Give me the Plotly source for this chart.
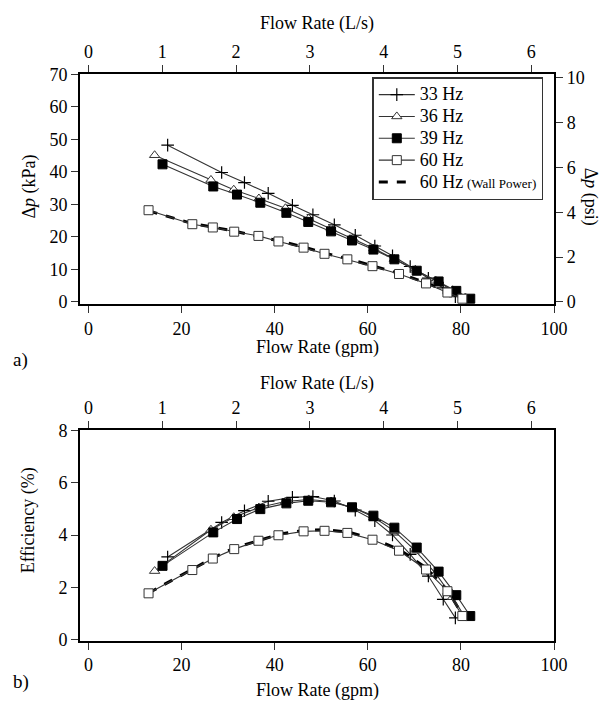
import plotly.graph_objects as go

# ---------------- data ----------------
GPM_PER_LPS = 15.850
KPA_PER_PSI = 6.895

# Flow rates (gpm) for each drive frequency
q33 = [17.0, 28.6, 33.5, 38.6, 43.8, 48.2, 52.8, 57.3, 61.5, 65.3, 69.1, 73.0, 76.2, 78.8]
q36 = [14.2, 26.3, 31.2, 36.6, 42.3, 47.3, 52.1, 56.8, 61.3, 65.7, 70.2, 74.6, 78.2, 80.9]
q39 = [15.9, 26.8, 31.9, 36.9, 42.5, 47.2, 52.1, 56.6, 61.2, 65.7, 70.5, 75.2, 79.0, 82.0]
q60 = [12.9, 22.3, 26.7, 31.3, 36.5, 40.8, 46.2, 50.7, 55.6, 61.0, 66.7, 72.5, 77.1, 80.3]
qwall = [12.9, 22.3, 26.7, 31.3, 36.5, 40.8, 46.2, 50.7, 55.6, 61.0, 66.7, 72.5, 77.1, 80.3]

# Pressure rise (kPa)
dp33 = [48.2, 39.8, 36.7, 33.4, 29.7, 26.8, 23.7, 20.5, 17.2, 14.2, 10.9, 7.3, 4.3, 1.6]
dp36 = [45.1, 37.5, 34.5, 31.8, 28.8, 25.6, 22.5, 19.5, 16.4, 13.2, 9.9, 6.5, 3.6, 1.3]
dp39 = [42.3, 35.5, 33.0, 30.5, 27.4, 24.6, 21.7, 18.9, 16.1, 13.1, 9.6, 6.3, 3.4, 1.0]
dp60 = [28.2, 23.9, 22.9, 21.6, 20.3, 18.6, 16.7, 14.8, 13.1, 11.0, 8.6, 5.7, 2.9, 1.0]
dpwall = [28.0, 24.1, 23.0, 21.8, 20.1, 18.8, 16.9, 15.0, 13.3, 11.2, 8.8, 5.9, 3.1, 1.1]

# Efficiency (%)
eff33 = [3.16, 4.48, 4.93, 5.29, 5.44, 5.47, 5.30, 4.95, 4.55, 4.00, 3.26, 2.43, 1.54, 0.83]
eff36 = [2.62, 4.20, 4.68, 5.05, 5.28, 5.36, 5.28, 5.05, 4.68, 4.15, 3.40, 2.52, 1.62, 0.85]
eff39 = [2.82, 4.10, 4.61, 4.99, 5.21, 5.31, 5.25, 5.06, 4.74, 4.28, 3.52, 2.60, 1.70, 0.90]
eff60 = [1.77, 2.66, 3.10, 3.46, 3.78, 3.99, 4.14, 4.16, 4.08, 3.82, 3.40, 2.68, 1.85, 0.90]
effwall = [1.78, 2.70, 3.12, 3.50, 3.80, 4.02, 4.18, 4.20, 4.12, 3.86, 3.45, 2.75, 1.90, 0.95]

gpm_ticks = [0, 20, 40, 60, 80, 100]
lps_ticks = [0, 1, 2, 3, 4, 5, 6]
kpa_ticks = [0, 10, 20, 30, 40, 50, 60, 70]
psi_ticks = [0, 2, 4, 6, 8, 10]
eff_ticks = [0, 2, 4, 6, 8]

legend_names = ["33 Hz", "36 Hz", "39 Hz", "60 Hz", "60 Hz"]
wall_note = "(Wall Power)"

# ---------------- styling ----------------
FONT = "Liberation Serif"
LINE = "#333333"
X_RANGE = [-1.8, 100]
KPA_RANGE = [-0.6, 70]
EFF_RANGE = [-0.04, 8]

def lg(name, note=None):
    txt = "<span style='font-size:18px'>%s</span>" % name
    if note:
        txt += " <span style='font-size:13px'>%s</span>" % note
    return txt

series = [
    dict(name=lg(legend_names[0]), q=q33, dp=dp33, eff=eff33,
         marker=dict(symbol="cross-thin-open", size=9, color="black", line=dict(width=1.2, color="black")),
         line=dict(color=LINE, width=1.1), rank=1),
    dict(name=lg(legend_names[1]), q=q36, dp=dp36, eff=eff36,
         marker=dict(symbol="triangle-up", size=9, color="white", line=dict(width=1, color="#333333")),
         line=dict(color=LINE, width=1.1), rank=2),
    dict(name=lg(legend_names[2]), q=q39, dp=dp39, eff=eff39,
         marker=dict(symbol="square", size=9, color="black", line=dict(width=1, color="black")),
         line=dict(color=LINE, width=1.1), rank=3),
    dict(name=lg(legend_names[3]), q=q60, dp=dp60, eff=eff60,
         marker=dict(symbol="square", size=9, color="white", line=dict(width=1, color="#333333")),
         line=dict(color=LINE, width=1.1), rank=4),
]
wall = dict(name=lg(legend_names[4], wall_note), q=qwall, dp=dpwall, eff=effwall,
            line=dict(color="black", width=3, dash="dash"), rank=5)

fig = go.Figure()

# wall power dashed lines drawn first (underneath markers)
fig.add_trace(go.Scatter(x=wall["q"], y=wall["dp"], mode="lines", name=wall["name"],
                         line=wall["line"], legendrank=wall["rank"], xaxis="x", yaxis="y"))
fig.add_trace(go.Scatter(x=wall["q"], y=wall["eff"], mode="lines", showlegend=False,
                         line=wall["line"], xaxis="x3", yaxis="y3"))

for s in series:
    fig.add_trace(go.Scatter(x=s["q"], y=s["dp"], mode="lines+markers", name=s["name"],
                             marker=s["marker"], line=s["line"], legendrank=s["rank"],
                             xaxis="x", yaxis="y"))
    fig.add_trace(go.Scatter(x=s["q"], y=s["eff"], mode="lines+markers", showlegend=False,
                             marker=s["marker"], line=s["line"], xaxis="x3", yaxis="y3"))

# invisible traces on secondary unit axes (L/s, psi) so those axes are built
fig.add_trace(go.Scatter(x=[v / GPM_PER_LPS for v in q60], y=[v / KPA_PER_PSI for v in dp60],
                         mode="lines", opacity=0, showlegend=False, hoverinfo="skip",
                         xaxis="x2", yaxis="y2"))
fig.add_trace(go.Scatter(x=[v / GPM_PER_LPS for v in q60], y=eff60,
                         mode="lines", opacity=0, showlegend=False, hoverinfo="skip",
                         xaxis="x4", yaxis="y3"))

W, H = 613, 709
LEFT, RIGHT = 82, 567
XD = [LEFT / W, RIGHT / W]
TOP_D = [1 - 302 / H, 1 - 66 / H]
BOT_D = [1 - 648 / H, 1 - 432 / H]

tickfont = dict(family=FONT, size=18, color="black")
common = dict(showgrid=False, zeroline=False, showline=True, linecolor="black", linewidth=2,
              ticks="outside", ticklen=7, tickwidth=1.3, tickcolor="#333333", tickfont=tickfont)

fig.update_layout(
    width=W, height=H,
    margin=dict(l=0, r=0, t=0, b=0),
    paper_bgcolor="white", plot_bgcolor="white",
    font=dict(family=FONT, color="black"),
    xaxis=dict(domain=XD, anchor="y", range=X_RANGE, tickmode="array", tickvals=gpm_ticks, **common),
    xaxis2=dict(overlaying="x", side="top", anchor="y",
                range=[X_RANGE[0] / GPM_PER_LPS, X_RANGE[1] / GPM_PER_LPS],
                tickmode="array", tickvals=lps_ticks, **common),
    yaxis=dict(domain=TOP_D, anchor="x", range=KPA_RANGE, tickmode="array", tickvals=kpa_ticks, **common),
    yaxis2=dict(overlaying="y", side="right", anchor="x",
                range=[KPA_RANGE[0] / KPA_PER_PSI, KPA_RANGE[1] / KPA_PER_PSI],
                tickmode="array", tickvals=psi_ticks, **common),
    xaxis3=dict(domain=XD, anchor="y3", range=X_RANGE, tickmode="array", tickvals=gpm_ticks, **common),
    xaxis4=dict(overlaying="x3", side="top", anchor="y3",
                range=[X_RANGE[0] / GPM_PER_LPS, X_RANGE[1] / GPM_PER_LPS],
                tickmode="array", tickvals=lps_ticks, **common),
    yaxis3=dict(domain=BOT_D, anchor="x3", range=EFF_RANGE, tickmode="array", tickvals=eff_ticks,
                mirror=True, **common),
    legend=dict(x=(RIGHT - 11) / W, y=1 - 69 / H, xanchor="right", yanchor="top",
                bgcolor="white", bordercolor="#333333", borderwidth=1.5,
                font=dict(family=FONT, size=14.5, color="black"),
                tracegroupgap=0, itemwidth=36),
    showlegend=True,
)

def ann(text, x, y, angle=0, size=18):
    fig.add_annotation(text=text, x=x / W, y=1 - y / H, xref="paper", yref="paper",
                       showarrow=False, textangle=angle, xanchor="center", yanchor="middle",
                       font=dict(family=FONT, size=size, color="black"))

CX = (LEFT + RIGHT) / 2
ann("Flow Rate (L/s)", CX, 14)
ann("Flow Rate (gpm)", CX, 347)
ann("a)", 21, 360, size=19)
ann("Δ<i>p</i> (kPa)", 30, 181, angle=-90)
ann("Δ<i>p</i> (psi)", 604, 192, angle=90)
ann("Flow Rate (L/s)", CX, 384)
ann("Flow Rate (gpm)", CX, 699)
ann("b)", 21, 690, size=19)
ann("Efficiency (%)", 30, 524, angle=-90)

fig.write_html("out.html", config={"displayModeBar": False},
               post_script="document.body.style.margin='0';document.body.style.overflow='hidden';")
